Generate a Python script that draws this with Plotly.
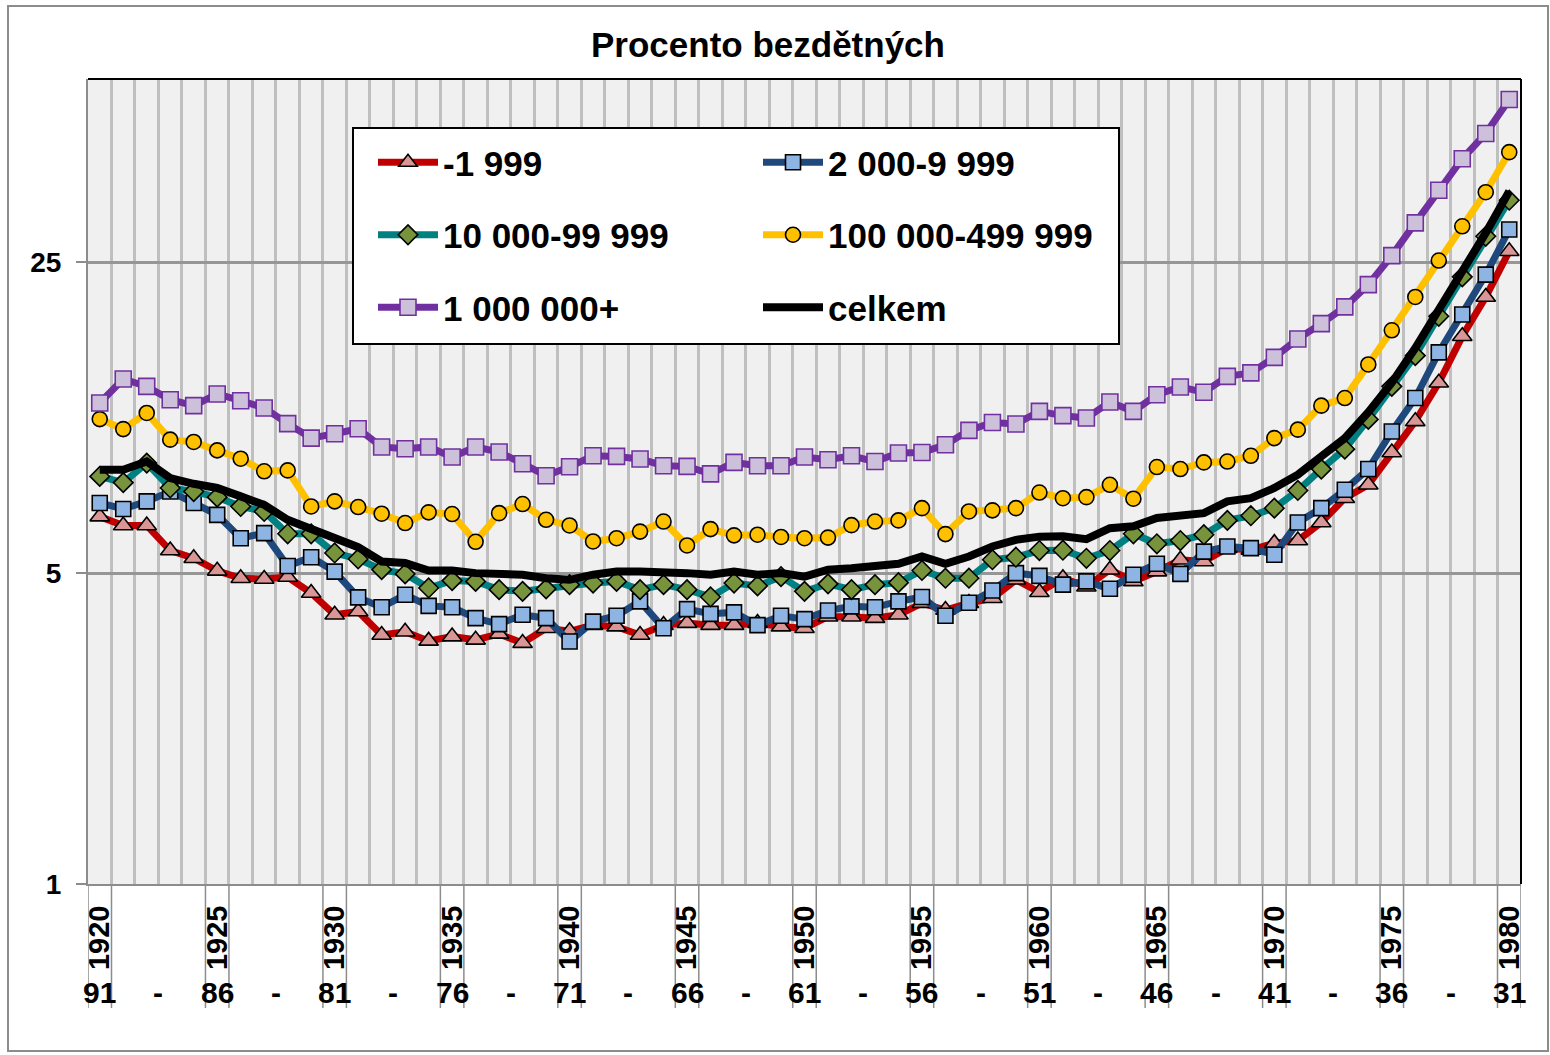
import plotly.graph_objects as go

# ---------------- data ----------------
years = list(range(1920, 1981))
year_ticks = list(range(1920, 1981, 5))
age_labels = ['91', '-', '86', '-', '81', '-', '76', '-', '71', '-', '66', '-', '61',
              '-', '56', '-', '51', '-', '46', '-', '41', '-', '36', '-', '31']

s_1999 = [6.70, 6.40, 6.40, 5.62, 5.40, 5.06, 4.87, 4.85, 4.90, 4.51,
          4.03, 4.10, 3.63, 3.69, 3.52, 3.60, 3.54, 3.65, 3.48, 3.76,
          3.70, 3.82, 3.79, 3.63, 3.82, 3.86, 3.82, 3.82, 3.86, 3.79,
          3.76, 3.99, 3.99, 3.96, 4.03, 4.28, 4.13, 4.28, 4.39, 4.83,
          4.53, 4.87, 4.66, 5.09, 4.79, 5.04, 5.36, 5.31, 5.69, 5.64,
          5.84, 5.92, 6.50, 7.37, 7.90, 9.34, 10.97, 13.4, 17.04, 20.89,
          26.47]
s_9999 = [7.19, 6.97, 7.25, 7.63, 7.19, 6.76, 5.99, 6.15, 5.19, 5.43,
          5.04, 4.41, 4.19, 4.47, 4.22, 4.19, 3.96, 3.84, 4.03, 3.96,
          3.51, 3.89, 4.01, 4.32, 3.76, 4.15, 4.05, 4.08, 3.82, 4.01,
          3.94, 4.12, 4.21, 4.19, 4.32, 4.42, 4.01, 4.29, 4.57, 5.00,
          4.93, 4.71, 4.79, 4.61, 4.96, 5.25, 4.98, 5.59, 5.74, 5.69,
          5.50, 6.50, 7.00, 7.70, 8.57, 10.41, 12.38, 15.68, 19.07, 23.45,
          29.62]
s_99999 = [8.25, 7.99, 8.84, 7.77, 7.63, 7.41, 7.06, 6.88, 6.13, 6.13,
           5.55, 5.38, 5.09, 4.98, 4.63, 4.81, 4.79, 4.59, 4.55, 4.61,
           4.71, 4.75, 4.79, 4.59, 4.71, 4.59, 4.42, 4.75, 4.68, 4.91,
           4.55, 4.73, 4.59, 4.71, 4.76, 5.07, 4.87, 4.87, 5.36, 5.43,
           5.62, 5.63, 5.40, 5.62, 6.13, 5.82, 5.92, 6.10, 6.57, 6.73,
           7.00, 7.67, 8.57, 9.50, 11.08, 13.15, 15.42, 18.90, 23.18, 28.60,
           34.47]
s_499999 = [11.10, 10.54, 11.46, 9.98, 9.86, 9.44, 9.04, 8.47, 8.51, 7.06,
            7.25, 7.04, 6.80, 6.48, 6.85, 6.79, 5.88, 6.82, 7.15, 6.59,
            6.40, 5.89, 5.99, 6.20, 6.53, 5.77, 6.28, 6.08, 6.10, 6.03,
            5.99, 6.01, 6.41, 6.53, 6.57, 7.00, 6.12, 6.88, 6.92, 7.00,
            7.59, 7.37, 7.41, 7.90, 7.35, 8.66, 8.57, 8.87, 8.91, 9.18,
            10.06, 10.51, 11.90, 12.38, 14.73, 17.58, 20.89, 25.22, 30.12, 35.93,
            44.21]
s_1000000 = [12.06, 13.66, 13.15, 12.27, 11.90, 12.64, 12.21, 11.76, 10.84, 10.06,
             10.29, 10.56, 9.61, 9.52, 9.61, 9.12, 9.61, 9.36, 8.81, 8.28,
             8.67, 9.18, 9.15, 9.03, 8.72, 8.69, 8.36, 8.87, 8.72, 8.72,
             9.12, 8.99, 9.18, 8.91, 9.31, 9.34, 9.72, 10.47, 10.91, 10.82,
             11.55, 11.30, 11.16, 12.13, 11.55, 12.59, 13.11, 12.75, 13.85, 14.10,
             15.28, 16.81, 18.20, 19.84, 22.27, 25.88, 30.66, 36.31, 42.72, 48.71,
             58.08]
s_celkem = [8.54, 8.54, 8.91, 8.18, 7.94, 7.77, 7.44, 7.12, 6.59, 6.28,
            5.94, 5.72, 5.31, 5.27, 5.07, 5.07, 5.00, 5.00, 4.96, 4.87,
            4.83, 4.96, 5.04, 5.04, 5.04, 5.00, 4.96, 5.04, 4.96, 5.00,
            4.91, 5.09, 5.13, 5.17, 5.25, 5.45, 5.25, 5.45, 5.74, 5.94,
            6.04, 6.05, 5.96, 6.31, 6.37, 6.65, 6.73, 6.82, 7.25, 7.37,
            7.77, 8.32, 9.15, 10.05, 11.50, 13.40, 16.04, 19.50, 23.66, 29.11,
            36.12]

series_names = ['-1 999', '2 000-9 999', '10 000-99 999', '100 000-499 999',
                '1 000 000+', 'celkem']
series_values = [s_1999, s_9999, s_99999, s_499999, s_1000000, s_celkem]

# ---------------- styles ----------------
FONT = 'Liberation Sans, Arial, sans-serif'
styles = [
    dict(line=dict(color='#C00000', width=7),
         marker=dict(symbol='triangle-up', size=17, color='#DA9694',
                     line=dict(color='black', width=1.6)), legend='legend'),
    dict(line=dict(color='#1F497D', width=7),
         marker=dict(symbol='square', size=15, color='#8DB4E2',
                     line=dict(color='black', width=1.6)), legend='legend2'),
    dict(line=dict(color='#008080', width=7),
         marker=dict(symbol='diamond', size=15, color='#77933C',
                     line=dict(color='black', width=1.6)), legend='legend'),
    dict(line=dict(color='#FFC000', width=7),
         marker=dict(symbol='circle', size=15, color='#FFC000',
                     line=dict(color='black', width=1.6)), legend='legend2'),
    dict(line=dict(color='#7030A0', width=7),
         marker=dict(symbol='square', size=16, color='#CCC0DA',
                     line=dict(color='#7030A0', width=1.6)), legend='legend'),
    dict(line=dict(color='black', width=8), marker=None, legend='legend2'),
]

fig = go.Figure()
for name, vals, st in zip(series_names, series_values, styles):
    kw = dict(x=years, y=vals, name=name, legend=st['legend'], legendgroup=name,
              line=st['line'], cliponaxis=False)
    if st['marker'] is None:
        kw['mode'] = 'lines'
    else:
        kw['mode'] = 'lines+markers'
        kw['marker'] = st['marker']
    fig.add_trace(go.Scatter(**kw))

# ---------------- decorations ----------------
L, R, T, B = 88, 29, 79, 171
W, H = 1550, 1055
pw, ph = W - L - R, H - T - B


def px_x(px):
    return (px - L) / pw


def px_y(py):
    return (H - B - py) / ph


shapes = []
# outer border
shapes.append(dict(type='rect', xref='paper', yref='paper',
                   x0=px_x(8), x1=px_x(1548), y0=px_y(1051), y1=px_y(6),
                   line=dict(color='#8C8C8C', width=2), fillcolor='rgba(0,0,0,0)',
                   layer='below'))
# top / right plot border
shapes.append(dict(type='line', xref='paper', yref='paper', x0=0, x1=1, y0=1, y1=1,
                   line=dict(color='black', width=2)))
shapes.append(dict(type='line', xref='paper', yref='paper', x0=1, x1=1, y0=0, y1=1,
                   line=dict(color='black', width=2)))
# long category tick marks around labelled years
for yv in year_ticks:
    for dx in (-0.5, 0.5):
        shapes.append(dict(type='line', xref='x', yref='paper', x0=yv + dx, x1=yv + dx,
                           y0=0, y1=px_y(1008), line=dict(color='#8C8C8C', width=1.5)))
# legend box
shapes.append(dict(type='rect', xref='paper', yref='paper',
                   x0=px_x(353), x1=px_x(1119), y0=px_y(344), y1=px_y(128),
                   line=dict(color='black', width=2), fillcolor='white', layer='above'))

annotations = []
for k, lab in enumerate(age_labels):
    annotations.append(dict(x=1920 + 2.5 * k, xref='x', y=px_y(992), yref='paper',
                            text=lab, showarrow=False, xanchor='center', yanchor='middle',
                            font=dict(family='Liberation Sans Narrow, Arial Narrow, ' + FONT,
                                      size=30, color='black', weight='bold')))

legend_common = dict(font=dict(family=FONT, size=35, color='black', weight='bold'),
                     bgcolor='rgba(0,0,0,0)', borderwidth=0, traceorder='grouped',
                     tracegroupgap=24, itemwidth=60, xanchor='left', yanchor='top',
                     itemclick=False, itemdoubleclick=False)

fig.update_layout(
    width=W, height=H,
    margin=dict(l=L, r=R, t=T, b=B),
    paper_bgcolor='white',
    plot_bgcolor='#F0F0F0',
    font=dict(family=FONT, color='black'),
    title=dict(text='<b>Procento bezdětných</b>', x=px_x(768), xref='paper',
               xanchor='center', y=1 - 45 / H, yanchor='middle',
               font=dict(family=FONT, size=35, color='black')),
    showlegend=True,
    legend=dict(x=px_x(373), y=px_y(133), **legend_common),
    legend2=dict(x=px_x(758), y=px_y(133), **legend_common),
    xaxis=dict(range=[1919.5, 1980.5], tickmode='array', tickvals=year_ticks,
               ticktext=[str(v) for v in year_ticks], tickangle=-90,
               tickfont=dict(family=FONT, size=29, color='black', weight='bold'),
               ticks='', ticklabelstandoff=8, showgrid=False, zeroline=False,
               showline=True, linecolor='#8C8C8C', linewidth=2,
               minor=dict(tick0=1919.5, dtick=1, showgrid=True, gridcolor='#BFBFBF',
                          gridwidth=2.5, ticks='')),
    yaxis=dict(type='log', range=[0, 1.810], tickmode='array', tickvals=[1, 5, 25],
               ticktext=['1', '5', '25'],
               tickfont=dict(family=FONT, size=28, color='black', weight='bold'),
               ticks='outside', ticklen=10, tickcolor='#8C8C8C', tickwidth=2,
               ticklabelstandoff=9,
               showgrid=True, gridcolor='#969696', gridwidth=2.5, zeroline=False,
               showline=True, linecolor='#8C8C8C', linewidth=2),
    shapes=shapes,
    annotations=annotations,
)

fig.write_html('out.html',
               config={'displayModeBar': False},
               post_script="document.body.style.margin='0px';"
                           "document.body.style.overflow='hidden';")
